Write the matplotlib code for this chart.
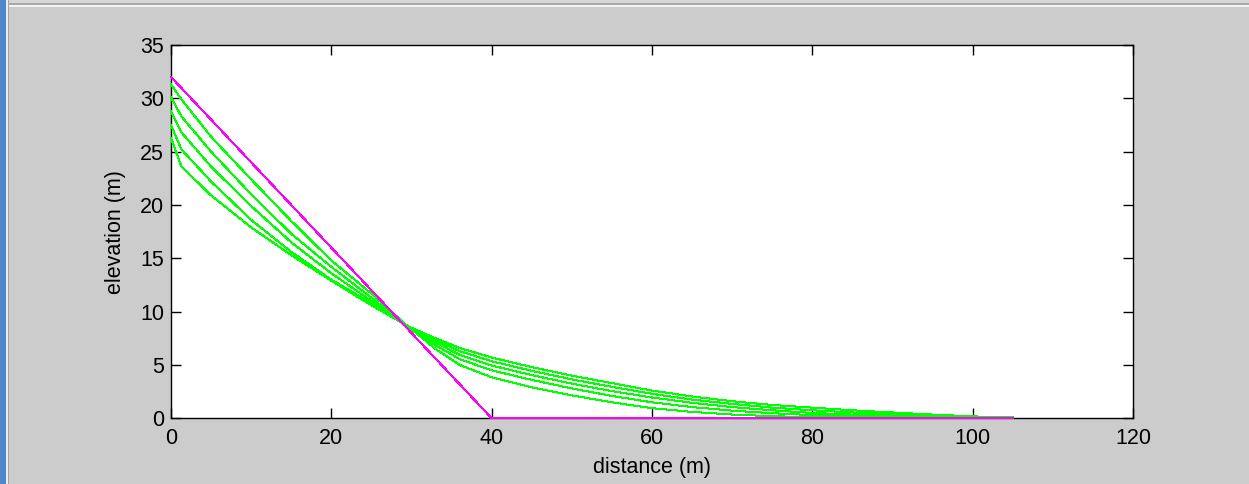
import matplotlib
matplotlib.use("Agg")
import matplotlib.pyplot as plt
from matplotlib.patches import Rectangle

# ---- data ----
x_initial = [0, 40, 105]
z_initial = [32, 0, 0]

x_profile = [0, 1.3, 5, 10, 15, 20, 25, 29.5, 33, 36, 40, 45, 50, 55, 60, 65,
             70, 75, 80, 85, 90, 95, 100, 105]
z_t1 = [31.3, 29.9, 26.4, 22.4, 18.5, 14.8, 11.7, 8.65, 6.5, 5.0, 3.85, 2.9,
        2.15, 1.5, 0.95, 0.6, 0.35, 0.2, 0.1, 0.05, 0.02, 0.0, 0.0, 0.0]
z_t2 = [30.1, 28.3, 25.0, 21.0, 17.3, 14.2, 11.3, 8.65, 6.85, 5.55, 4.5, 3.6,
        2.8, 2.1, 1.5, 1.05, 0.72, 0.48, 0.3, 0.18, 0.1, 0.05, 0.02, 0.0]
z_t3 = [28.8, 26.8, 23.6, 19.9, 16.5, 13.6, 11.0, 8.65, 7.1, 5.95, 4.95, 4.05,
        3.25, 2.55, 1.95, 1.45, 1.05, 0.75, 0.5, 0.35, 0.22, 0.12, 0.05, 0.0]
z_t4 = [27.5, 25.2, 22.2, 18.6, 15.6, 13.0, 10.8, 8.65, 7.3, 6.3, 5.35, 4.45,
        3.65, 2.95, 2.3, 1.75, 1.35, 1.0, 0.75, 0.55, 0.38, 0.22, 0.1, 0.04]
z_t5 = [26.3, 23.6, 20.9, 17.9, 15.3, 12.9, 10.6, 8.65, 7.5, 6.6, 5.7, 4.8,
        4.0, 3.3, 2.6, 2.05, 1.6, 1.25, 1.0, 0.75, 0.55, 0.35, 0.18, 0.08]
profiles = [z_t1, z_t2, z_t3, z_t4, z_t5]

x_ticks = [0, 20, 40, 60, 80, 100, 120]
y_ticks = [0, 5, 10, 15, 20, 25, 30, 35]

# ---- figure ----
W, H = 1249, 484
fig = plt.figure(figsize=(W / 100, H / 100), dpi=100, facecolor="#cccccc")
plt.rcParams["font.family"] = ["Liberation Sans", "DejaVu Sans"]

# window chrome (screenshot border)
def px_rect(x0, y0, w, h, color):
    fig.patches.append(Rectangle((x0 / W, 1 - (y0 + h) / H), w / W, h / H,
                                 transform=fig.transFigure, color=color,
                                 zorder=-1, lw=0))

px_rect(0, 0, W, 3.3, "#d6d6d6")
px_rect(0, 3.3, W, 1.4, "#a9a9a9")
px_rect(0, 4.7, W, 2.0, "#f2f2f2")
px_rect(0, 0, 6, H, "#4f87c9")
px_rect(6, 0, 2, H, "#eeeeee")
px_rect(8, 0, 1.5, H, "#a5a5a5")

left, right, top, bottom = 171, 1133, 45, 418.3
ax = fig.add_axes([left / W, 1 - bottom / H, (right - left) / W, (bottom - top) / H])
ax.set_facecolor("white")

for z in profiles:
    ax.plot(x_profile, z, color="#00ff00", lw=0.72, antialiased=False,
            zorder=3, clip_on=False)
ax.plot(x_initial, z_initial, color="#ff00ff", lw=0.72, antialiased=False,
        zorder=4, clip_on=False)

ax.set_xlim(0, 120)
ax.set_ylim(0, 35)
ax.set_xticks(x_ticks)
ax.set_yticks(y_ticks)
ax.tick_params(direction="in", length=7, width=1.0, top=True, right=True,
               labelsize=15.5, color="black", labelcolor="black")
ax.tick_params(axis="x", pad=7)
ax.tick_params(axis="y", pad=5)
for s in ax.spines.values():
    s.set_linewidth(1.0)
    s.set_color("black")

ax.set_xlabel("distance (m)", fontsize=15.5, labelpad=6)
ax.set_ylabel("elevation (m)", fontsize=15.5, labelpad=10)

fig.savefig("out.png", dpi=100, facecolor=fig.get_facecolor())
